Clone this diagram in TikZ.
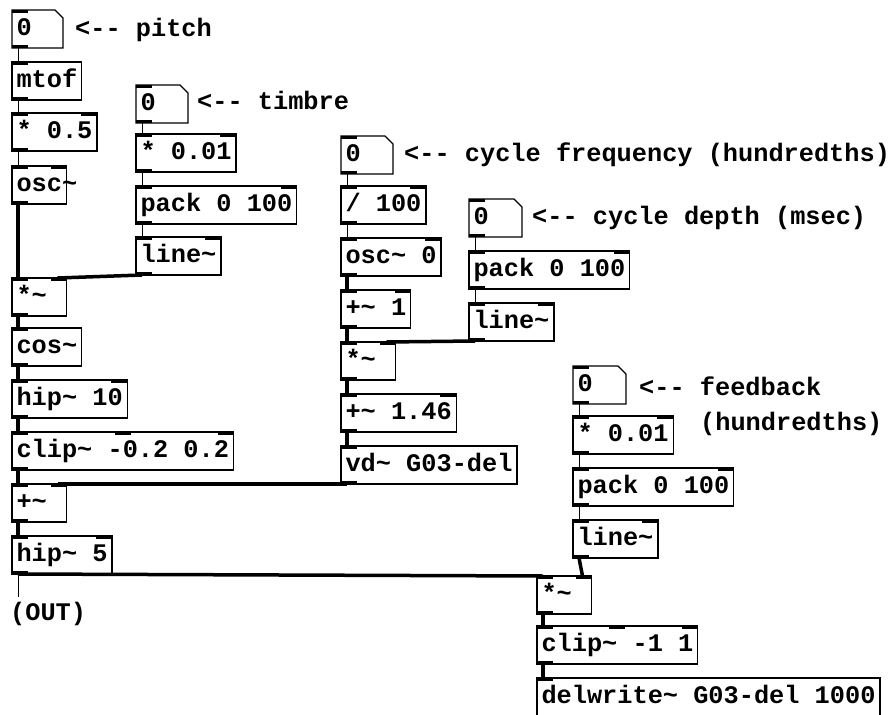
\documentclass[tikz,border=0pt]{standalone}
\usepackage{fontspec}
\newfontfamily\pdfont{Liberation Mono}
\usetikzlibrary{calc}

% Pd look: boxes, inlets/outlets, wires
\newcommand\tld{\string~}
\newcommand\short[1]{\makebox[45.5pt][l]{#1}}
\newcommand\inl[1]{\fill (#1.north west) rectangle ++(16,3);}
\newcommand\inr[1]{\fill (#1.north east) rectangle ++(-16,3);}
\newcommand\inm[1]{\fill ([xshift=-8pt]#1.north) rectangle ++(16,3);}
\newcommand\outl[1]{\fill (#1.south west) rectangle ++(16,-3);}
\newcommand\wire[3][ctl]{\draw[#1] ([xshift=6pt]#2.south west) -- ([xshift=6pt]#3.north west);}
\newcommand\wirer[3][ctl]{\draw[#1] ([xshift=6pt]#2.south west) -- ([xshift=-9pt]#3.north east);}
\newcommand\numbox[3][43pt]{%
  \node[obj,draw=none] (#2) at (#3) {\makebox[#1][l]{0}};
  \draw[line width=1.2pt] (#2.south west) -- (#2.north west) -- ([xshift=-8pt]#2.north east)
    -- ([yshift=-8pt]#2.north east) -- (#2.south east) -- cycle;
  \inl{#2}\outl{#2}}

\begin{document}
\begin{tikzpicture}[x=1pt,y=-1pt,
  obj/.style={draw, line width=1.2pt, anchor=north west, outer sep=0pt,
    inner xsep=4.5pt, inner ysep=0pt, minimum height=38pt,
    text height=17pt, text depth=5pt,
    font=\pdfont\bfseries\fontsize{25.3}{26}\selectfont},
  cmt/.style={anchor=west, inner sep=0pt, text height=17pt, text depth=5pt,
    font=\pdfont\bfseries\fontsize{25.3}{26}\selectfont},
  ctl/.style={line width=1pt},
  sig/.style={line width=3.5pt}]

\useasboundingbox (0,0) rectangle (895,715);

% ===== PITCH / CARRIER =====
\numbox[42pt]{pitch}{12,10}
\node[cmt] (pitchc) at (75,30) {<-{}- pitch};
\node[obj] (mtof) at (12,62) {mtof};
\node[obj] (half) at (12,113) {* 0.5};
\node[obj] (osc) at (12,166) {\short{osc\tld}};

% ===== TIMBRE =====
\numbox{timbre}{136,85}
\node[cmt] (timbrec) at (197,103) {<-{}- timbre};
\node[obj] (tmul) at (136,134) {* 0.01};
\node[obj] (tpack) at (136,186) {pack 0 100};
\node[obj] (tline) at (136,237) {line\tld};

% ===== WAVESHAPER CHAIN =====
\node[obj] (wmul) at (12,278) {\short{*\tld}};
\node[obj] (cos) at (12,328) {cos\tld};
\node[obj] (hipa) at (12,380) {hip\tld{} 10};
\node[obj] (clipa) at (12,432) {clip\tld{} -0.2 0.2};
\node[obj] (sum) at (12,484) {\short{+\tld}};
\node[obj] (hipb) at (12,536) {hip\tld{} 5};
\coordinate (out) at (18,597);
\node[cmt] (outc) at (10,614) {(OUT)};

% ===== DELAY CYCLE =====
\numbox{freq}{341,136}
\node[cmt] (freqc) at (404,155) {<-{}- cycle frequency (hundredths)};
\node[obj] (div) at (341,186) {/ 100};
\node[obj] (cosc) at (341,238) {osc\tld{} 0};
\node[obj] (one) at (341,290) {+\tld{} 1};
\node[obj] (cmul) at (341,342) {\short{*\tld}};
\node[obj] (base) at (341,394) {+\tld{} 1.46};
\node[obj] (vd) at (341,446) {vd\tld{} G03-del};

\numbox[44pt]{depth}{469,199}
\node[cmt] (depthc) at (532,218) {<-{}- cycle depth (msec)};
\node[obj] (dpack) at (469,251) {pack 0 100};
\node[obj] (dline) at (469,303) {line\tld};

% ===== FEEDBACK =====
\numbox[44pt]{fb}{573,366}
\node[cmt] (fbc) at (639,389) {<-{}- feedback};
\node[cmt] (fbcc) at (700,424) {(hundredths)};
\node[obj] (fmul) at (573,416) {* 0.01};
\node[obj] (fpack) at (573,468) {pack 0 100};
\node[obj] (fline) at (573,520) {line\tld};
\node[obj] (gain) at (537,576) {\short{*\tld}};
\node[obj] (clipb) at (537,626) {clip\tld{} -1 1};
\node[obj] (dw) at (537,678) {delwrite\tld{} G03-del 1000};

% inlets and outlets
\inl{mtof}\outl{mtof}
\inl{half}\inr{half}\outl{half}
\inl{osc}\inr{osc}\outl{osc}
\inl{tmul}\inr{tmul}\outl{tmul}
\inl{tpack}\inr{tpack}\outl{tpack}
\inl{tline}\inr{tline}\outl{tline}
\inl{wmul}\inr{wmul}\outl{wmul}
\inl{cos}\outl{cos}
\inl{hipa}\inr{hipa}\outl{hipa}
\inl{clipa}\inm{clipa}\inr{clipa}\outl{clipa}
\inl{sum}\inr{sum}\outl{sum}
\inl{hipb}\inr{hipb}\outl{hipb}
\inl{div}\inr{div}\outl{div}
\inl{cosc}\inr{cosc}\outl{cosc}
\inl{one}\inr{one}\outl{one}
\inl{cmul}\inr{cmul}\outl{cmul}
\inl{base}\inr{base}\outl{base}
\inl{vd}\outl{vd}
\inl{dpack}\inr{dpack}\outl{dpack}
\inl{dline}\inr{dline}\outl{dline}
\inl{fmul}\inr{fmul}\outl{fmul}
\inl{fpack}\inr{fpack}\outl{fpack}
\inl{fline}\inr{fline}\outl{fline}
\inl{gain}\inr{gain}\outl{gain}
\inl{clipb}\inm{clipb}\inr{clipb}\outl{clipb}
\inl{dw}

% ===== WIRES =====
\wire{pitch}{mtof}
\wire{mtof}{half}
\wire{half}{osc}
\wire[sig]{osc}{wmul}
\wire{timbre}{tmul}
\wire{tmul}{tpack}
\wire{tpack}{tline}
\wirer[sig]{tline}{wmul}
\wire[sig]{wmul}{cos}
\wire[sig]{cos}{hipa}
\wire[sig]{hipa}{clipa}
\wire[sig]{clipa}{sum}
\wirer[sig]{vd}{sum}
\wire[sig]{sum}{hipb}
\draw[ctl] ([xshift=6pt]hipb.south west) -- (out);
\wire[sig]{hipb}{gain}

\wire{freq}{div}
\wire{div}{cosc}
\wire[sig]{cosc}{one}
\wire[sig]{one}{cmul}
\wire{depth}{dpack}
\wire{dpack}{dline}
\wirer[sig]{dline}{cmul}
\wire[sig]{cmul}{base}
\wire[sig]{base}{vd}

\wire{fb}{fmul}
\wire{fmul}{fpack}
\wire{fpack}{fline}
\wirer[sig]{fline}{gain}
\wire[sig]{gain}{clipb}
\wire[sig]{clipb}{dw}

\end{tikzpicture}
\end{document}
